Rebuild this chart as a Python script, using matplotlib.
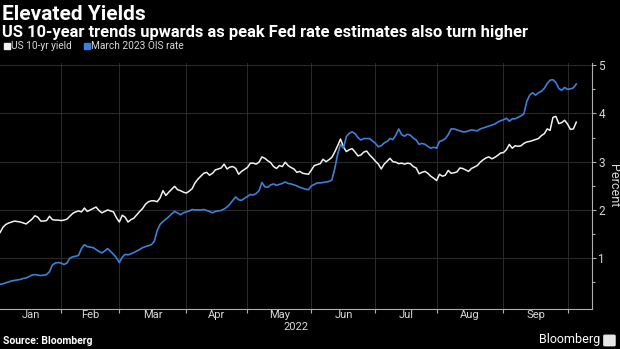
import numpy as np
import pandas as pd
import matplotlib
matplotlib.use("Agg")
import matplotlib.pyplot as plt
from matplotlib.patches import Rectangle, FancyBboxPatch

START = "2022-01-03"

# daily closes, one per weekday from START
us_10yr = [
    1.53, 1.64, 1.70, 1.73, 1.75, 1.77, 1.76, 1.75, 1.73, 1.71,
    1.76, 1.81, 1.88, 1.85, 1.77, 1.77, 1.78, 1.87, 1.80, 1.79,
    1.79, 1.78, 1.79, 1.81, 1.87, 1.93, 1.96, 1.98, 1.96, 2.04,
    1.97, 2.00, 2.03, 2.06, 1.99, 1.94, 1.97, 2.00, 1.98, 1.96,
    1.84, 1.75, 1.89, 1.85, 1.75, 1.80, 1.83, 1.90, 1.97, 2.03,
    2.12, 2.17, 2.19, 2.19, 2.17, 2.25, 2.40, 2.30, 2.37, 2.43,
    2.49, 2.42, 2.40, 2.37, 2.35, 2.39, 2.44, 2.56, 2.64, 2.70,
    2.76, 2.78, 2.72, 2.76, 2.83, 2.85, 2.87, 2.95, 2.85, 2.89,
    2.90, 2.86, 2.74, 2.80, 2.84, 2.88, 2.97, 2.97, 2.95, 2.99,
    3.10, 3.07, 3.02, 2.98, 2.90, 2.86, 2.92, 2.90, 2.99, 2.92,
    2.88, 2.85, 2.78, 2.80, 2.76, 2.75, 2.74, 2.83, 2.92, 2.94,
    2.96, 3.05, 3.00, 3.04, 3.09, 3.20, 3.33, 3.47, 3.31, 3.21,
    3.25, 3.27, 3.20, 3.12, 3.14, 3.20, 3.22, 3.14, 3.08, 3.01,
    2.95, 2.85, 2.95, 3.01, 3.07, 3.00, 2.99, 2.96, 2.97, 2.95,
    2.97, 2.96, 2.90, 2.87, 2.75, 2.78, 2.80, 2.76, 2.70, 2.66,
    2.61, 2.74, 2.70, 2.72, 2.82, 2.76, 2.77, 2.79, 2.87, 2.86,
    2.83, 2.80, 2.86, 2.89, 2.92, 2.99, 3.04, 3.08, 3.10, 3.06,
    3.09, 3.13, 3.18, 3.19, 3.25, 3.36, 3.28, 3.33, 3.32, 3.33,
    3.38, 3.41, 3.42, 3.44, 3.46, 3.48, 3.54, 3.58, 3.68, 3.65,
    3.92, 3.94, 3.79, 3.81, 3.86, 3.78, 3.67, 3.68, 3.82,
]

ois_mar_2023 = [
    0.46, 0.47, 0.49, 0.51, 0.53, 0.54, 0.55, 0.56, 0.58, 0.59,
    0.62, 0.65, 0.66, 0.65, 0.64, 0.65, 0.66, 0.72, 0.86, 0.90,
    0.91, 0.90, 0.87, 0.90, 1.00, 1.03, 1.04, 1.06, 1.20, 1.28,
    1.24, 1.23, 1.22, 1.18, 1.14, 1.11, 1.15, 1.20, 1.14, 1.08,
    1.01, 0.91, 1.02, 1.08, 1.07, 1.09, 1.12, 1.15, 1.18, 1.22,
    1.24, 1.26, 1.28, 1.35, 1.57, 1.70, 1.76, 1.81, 1.86, 1.92,
    1.97, 1.94, 1.90, 1.94, 1.96, 1.98, 2.01, 2.00, 2.00, 2.00,
    2.01, 1.99, 1.97, 1.94, 1.97, 1.98, 1.99, 2.02, 2.06, 2.12,
    2.20, 2.27, 2.21, 2.20, 2.24, 2.28, 2.32, 2.31, 2.34, 2.40,
    2.57, 2.48, 2.47, 2.52, 2.54, 2.51, 2.53, 2.55, 2.58, 2.55,
    2.54, 2.52, 2.50, 2.47, 2.45, 2.43, 2.42, 2.50, 2.53, 2.56,
    2.56, 2.57, 2.58, 2.59, 2.62, 2.85, 3.15, 3.36, 3.28, 3.52,
    3.59, 3.62, 3.58, 3.50, 3.45, 3.48, 3.48, 3.48, 3.43, 3.38,
    3.31, 3.33, 3.39, 3.42, 3.48, 3.46, 3.55, 3.68, 3.56, 3.53,
    3.57, 3.55, 3.49, 3.45, 3.36, 3.38, 3.36, 3.32, 3.28, 3.30,
    3.28, 3.42, 3.44, 3.48, 3.56, 3.68, 3.68, 3.66, 3.64, 3.62,
    3.62, 3.64, 3.66, 3.65, 3.64, 3.68, 3.70, 3.72, 3.74, 3.76,
    3.78, 3.82, 3.85, 3.87, 3.90, 3.84, 3.89, 3.89, 3.92, 3.95,
    3.99, 4.25, 4.38, 4.43, 4.38, 4.43, 4.46, 4.52, 4.62, 4.69,
    4.70, 4.64, 4.52, 4.48, 4.54, 4.50, 4.51, 4.53, 4.61,
]

months = ["Jan", "Feb", "Mar", "Apr", "May", "Jun", "Jul", "Aug", "Sep"]
month_starts = ["2022-01-03", "2022-02-01", "2022-03-01", "2022-04-01", "2022-05-01",
                "2022-06-01", "2022-07-01", "2022-08-01", "2022-09-01", "2022-10-01"]
y_ticks = [1, 2, 3, 4, 5]

BG = "black"
WHITE_LINE = "#f2f2f2"
BLUE_LINE = "#3d7fd9"
GRID = "#333333"
AXIS = "#b0b0b0"
TEXT = "#d9d9d9"
FONT = ["Liberation Sans Narrow", "Roboto", "DejaVu Sans"]

plt.rcParams["font.family"] = FONT

# trading-day axis: x is the weekday count since START
dates = pd.bdate_range(START, periods=len(us_10yr)).values.astype("datetime64[D]")
x = np.busday_count(START, dates)
bounds = np.busday_count(START, month_starts)
centres = (bounds[:-1] + bounds[1:]) / 2

fig = plt.figure(figsize=(6.2, 3.49), dpi=100, facecolor=BG)
ax = fig.add_axes([0.0, 0.115, 0.9548, 0.705], facecolor=BG)

ax.plot(x, us_10yr, color=WHITE_LINE, lw=1.1, zorder=3)
ax.plot(x, ois_mar_2023, color=BLUE_LINE, lw=1.2, zorder=3)

ax.set_xlim(0, 203.4)
ax.set_ylim(-0.05, 5.05)

for side in ["left", "top"]:
    ax.spines[side].set_visible(False)
for side in ["right", "bottom"]:
    ax.spines[side].set_color(AXIS)
    ax.spines[side].set_linewidth(0.8)

ax.yaxis.tick_right()
ax.yaxis.set_label_position("right")
ax.set_yticks(y_ticks)
ax.set_yticks(np.arange(0.5, 5.0, 1.0), minor=True)
ax.tick_params(axis="y", which="major", length=3, width=0.8, color=AXIS,
               labelcolor=TEXT, labelsize=8.5, pad=1.5)
ax.tick_params(axis="y", which="minor", length=2, width=0.8, color=AXIS)
ax.set_ylabel("Percent", color=TEXT, fontsize=9, rotation=270, labelpad=11)

ax.set_xticks(bounds[1:])
ax.set_xticklabels([])
ax.set_xticks(centres, minor=True)
ax.set_xticklabels(months, minor=True)
ax.tick_params(axis="x", which="major", length=3, width=0.8, color=AXIS)
ax.tick_params(axis="x", which="minor", length=0, labelcolor=TEXT, labelsize=8, pad=1)

ax.grid(True, which="major", color=GRID, lw=0.6, zorder=0)
ax.set_axisbelow(True)

ax.text(0.5, -0.075, "2022", transform=ax.transAxes, color=TEXT, fontsize=8,
        ha="center", va="center")

# heading
fig.text(0.003, 1 - 14 / 349, "Elevated Yields", color="white", fontsize=15,
         fontweight="bold", ha="left", va="center")
fig.text(0.003, 1 - 33 / 349, "US 10-year trends upwards as peak Fed rate estimates also turn higher",
         color="white", fontsize=11.9, fontweight="bold", ha="left", va="center")

# legend swatches
leg_y = 1 - 46 / 349
for x0, label, col in [(4, "US 10-yr yield", WHITE_LINE), (84, "March 2023 OIS rate", BLUE_LINE)]:
    fig.patches.append(Rectangle((x0 / 620, leg_y - 3 / 349), 6 / 620, 6 / 349,
                                 transform=fig.transFigure, color=col))
    fig.text((x0 + 7) / 620, leg_y, label, color=TEXT, fontsize=7.3, ha="left", va="center")

# footer
fig.text(0.005, 1 - 341 / 349, "Source: Bloomberg", color="white", fontsize=7.5,
         fontweight="bold", ha="left", va="center")
fig.text(0.968, 1 - 340 / 349, "Bloomberg", color="white", fontsize=9,
         ha="right", va="center")
fig.patches.append(FancyBboxPatch((0.976, 1 - 345 / 349), 0.014, 0.026,
                                  boxstyle="round,pad=0.002", transform=fig.transFigure,
                                  color="#e6e6e6"))

fig.savefig("out.png", dpi=100, facecolor=BG)
